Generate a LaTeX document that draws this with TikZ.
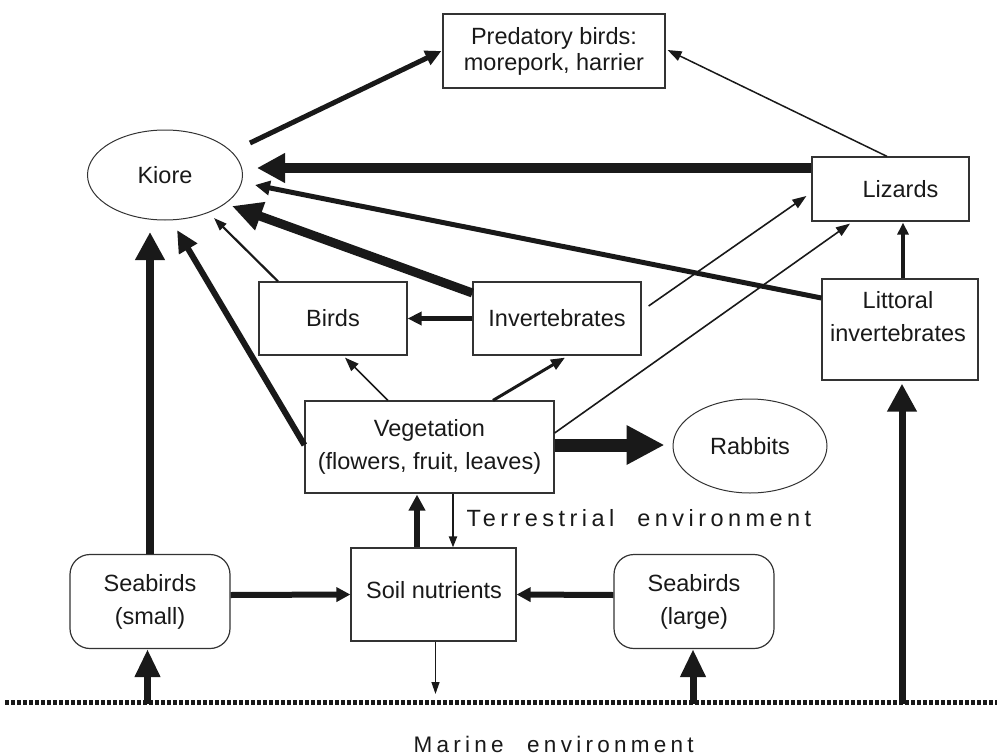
\documentclass[tikz,border=0pt]{standalone}
\usepackage{fontspec}
\setmainfont{Liberation Sans}
\usetikzlibrary{arrows.meta,shapes.geometric}
\begin{document}
\begin{tikzpicture}[x=1pt,y=-1pt,
  every node/.style={font=\fontsize{23.5}{33}\selectfont, text=black!90},
  box/.style={draw=black!80, line width=1.2pt, rectangle, inner sep=0pt, align=center},
  rbox/.style={box, rounded corners=20pt},
  oval/.style={draw=black!80, line width=1pt, ellipse, inner sep=0pt},
  arr/.style n args={3}{draw=black!90, line width=#1, -{Triangle[length=#2, width=#3]}},
  envtext/.style={anchor=base west, font=\fontsize{#1}{28}\selectfont\addfontfeature{LetterSpace=19}},
  dotline/.style={draw=black!90, line width=5pt, dash pattern=on 3.5pt off 2.5pt}]
\useasboundingbox (0,0) rectangle (997,755);

% nodes
\node[box, minimum width=222pt, minimum height=74pt, font=\fontsize{23.5}{26}\selectfont] (pred) at (554,51) {Predatory birds:\\morepork, harrier};
\node[oval, minimum width=155pt, minimum height=90pt] (kiore) at (165,175) {Kiore};
\node[box, minimum width=157pt, minimum height=64pt] (liz) at (890.5,189) {\hspace*{20pt}Lizards};
\node[box, minimum width=156pt, minimum height=101pt] (litt) at (900,329.5) {};
\node[align=center] (littT) at (898,317) {Littoral\\invertebrates};
\node[box, minimum width=148pt, minimum height=73pt] (birds) at (333,318.5) {Birds};
\node[box, minimum width=168pt, minimum height=73pt] (inv) at (557,318.5) {Invertebrates};
\node[box, minimum width=249pt, minimum height=92pt] (veg) at (429.5,447) {Vegetation\\(flowers, fruit, leaves)};
\node[oval, minimum width=154pt, minimum height=94pt] (rab) at (750,446) {Rabbits};
\node[box, minimum width=165pt, minimum height=93pt] (soil) at (433.5,594.5) {};
\node (soilT) at (434,590) {Soil nutrients};
\node[rbox, minimum width=160pt, minimum height=94pt] (sbs) at (150,601.5) {Seabirds\\(small)};
\node[rbox, minimum width=160pt, minimum height=94pt] (sbl) at (694,601.5) {Seabirds\\(large)};

% environment labels and boundary
\node[envtext=23.5] (terr) at (463,526) {Terrestrial\hspace{12pt} environment};
\node[envtext=22.5] (mar) at (410,752) {Marine\hspace{13pt} environment};
\coordinate (mL) at (5,702);
\coordinate (mR) at (997,702);
\draw[dotline] (mL) -- (mR);
\coordinate (m1) at (147.5,704);
\coordinate (m2) at (693,704);
\coordinate (m3) at (902,704);
\coordinate (drop) at (435.5,694);

% connectors
\draw[arr={5pt}{16pt}{15pt}] ([xshift=85pt,yshift=32pt]kiore.center) -- ([xshift=-1pt]pred.west);
\draw[arr={10pt}{28pt}{28pt}] ([yshift=21pt]liz.west) -- ([xshift=92pt,yshift=7pt]kiore.center);
\draw[arr={5pt}{15pt}{14pt}] ([yshift=31.5pt]litt.west) -- ([xshift=90pt,yshift=-10pt]kiore.center);
\draw[arr={9pt}{30pt}{28pt}] ([yshift=25.5pt]inv.west) -- ([xshift=67pt,yshift=-31pt]kiore.center);
\draw[arr={2.2pt}{13pt}{9pt}] ([xshift=-55pt]birds.north) -- ([xshift=49pt,yshift=-43pt]kiore.center);
\draw[arr={6pt}{22pt}{20pt}] ([yshift=2pt]veg.west) -- ([xshift=12pt,yshift=-55pt]kiore.center);
\draw[arr={8pt}{28pt}{28pt}] (sbs.north) -- ([xshift=-15pt,yshift=-57pt]kiore.center);
\draw[arr={5pt}{14pt}{13pt}] (inv.west) -- (birds.east);
\draw[arr={1.6pt}{14pt}{10pt}] ([xshift=-41.5pt]veg.north) -- ([xshift=12pt,yshift=-2pt]birds.south);
\draw[arr={3pt}{14pt}{11pt}] ([xshift=63.5pt]veg.north) -- ([xshift=8pt,yshift=-2pt]inv.south);
\draw[arr={1.6pt}{14pt}{10pt}] ([xshift=7pt,yshift=12.5pt]inv.east) -- ([xshift=-5pt,yshift=-7pt]liz.west);
\draw[arr={1.6pt}{14pt}{10pt}] ([yshift=14pt]veg.east) -- ([xshift=-40.5pt,yshift=-2pt]liz.south);
\draw[arr={4pt}{12pt}{11pt}] ([xshift=3pt]litt.north) -- ([xshift=12.5pt,yshift=-1pt]liz.south);
\draw[arr={1.5pt}{14pt}{10pt}] ([xshift=-3.5pt]liz.north) -- ([xshift=2pt,yshift=1pt]pred.east);
\draw[arr={13pt}{38pt}{37pt}] ([yshift=2pt]veg.east) -- ([xshift=-8pt,yshift=1pt]rab.west);
\draw[arr={6pt}{16pt}{16pt}] ([xshift=-16.5pt]soil.north) -- ([xshift=-12.5pt,yshift=-1pt]veg.south);
\draw[arr={2pt}{11pt}{8pt}] ([xshift=23.5pt]veg.south) -- ([xshift=19.5pt]soil.north);
\draw[arr={6pt}{14pt}{14pt}] ([yshift=6.5pt]sbs.east) -- (soil.west);
\draw[arr={6pt}{14pt}{14pt}] ([yshift=6.5pt]sbl.west) -- (soil.east);
\draw[arr={1.3pt}{12pt}{8pt}] ([xshift=2pt]soil.south) -- (drop);
\draw[arr={7pt}{28pt}{24pt}] (m1) -- ([xshift=-2.5pt]sbs.south);
\draw[arr={7pt}{28pt}{24pt}] (m2) -- ([xshift=-1pt]sbl.south);
\draw[arr={7pt}{28pt}{28pt}] (m3) -- ([xshift=2pt,yshift=-3pt]litt.south);
\end{tikzpicture}
\end{document}
